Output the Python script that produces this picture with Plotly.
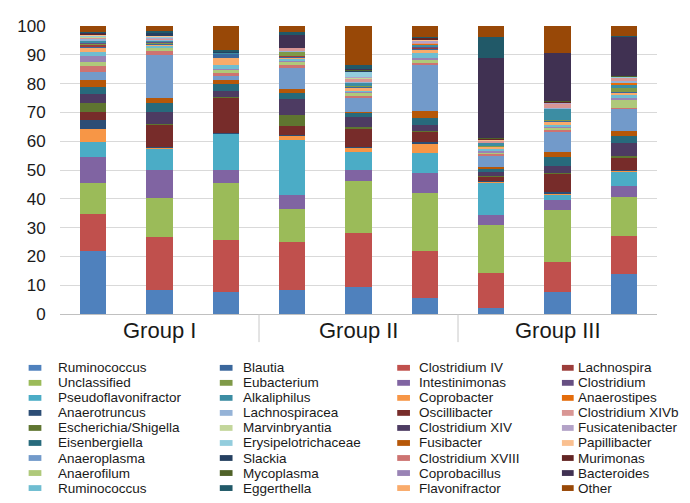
import plotly.graph_objects as go

# ---------------- data ----------------
bar_ids = ["I-1", "I-2", "I-3", "II-1", "II-2", "II-3", "III-1", "III-2", "III-3"]
groups = ["Group I", "Group II", "Group III"]
group_centers = ["I-2", "II-2", "III-2"]

# taxa in stacking order (bottom -> top)
taxa = [
    "Ruminococcus", "Clostridium IV", "Unclassified", "Intestinimonas",
    "Pseudoflavonifractor", "Coprobacter", "Anaerotruncus", "Oscillibacter",
    "Escherichia/Shigella", "Clostridium XIV", "Eisenbergiella", "Fusibacter",
    "Anaeroplasma", "Clostridium XVIII", "Anaerofilum", "Coprobacillus",
    "Ruminococcus", "Flavonifractor",
    "Blautia", "Lachnospira", "Eubacterium", "Clostridium",
    "Alkaliphilus", "Anaerostipes", "Lachnospiracea", "Clostridium XIVb",
    "Marvinbryantia", "Fusicatenibacter", "Erysipelotrichaceae", "Papillibacter",
    "Slackia", "Murimonas", "Mycoplasma", "Bacteroides", "Eggerthella", "Other",
]

colors = [
    "#4F81BD", "#C0504D", "#9BBB59", "#8064A2", "#4BACC6", "#F79646",
    "#2C4D75", "#772C2A", "#5F7530", "#4D3B62", "#276A7C", "#B65708",
    "#729ACA", "#CD7371", "#AFC97A", "#9983B5", "#6FBDD1", "#F9AB6B",
    "#3A679C", "#9C3D3A", "#7F9A48", "#664F82", "#3C8DA3", "#E46C0A",
    "#95B3D7", "#D99694", "#C3D69B", "#B3A2C7", "#93CDDD", "#FAC090",
    "#254061", "#632523", "#4F6228", "#403152", "#215968", "#984807",
]

# relative abundance (%) per bar, in taxa order
bar_I_1 = [21.9, 12.9, 10.8, 8.8, 5.4, 4.5, 3.0, 2.8, 3.2, 3.1, 2.5, 2.4, 2.6, 2.2, 1.5, 1.9, 1.6, 1.1,
           0.8, 0.5, 0.5, 0.3, 0.5, 0.2, 0.4, 0.7, 0.2, 0.2, 0.2, 0.2, 0.2, 0.2, 0.2, 0.2, 0.2, 2.1]
bar_I_2 = [8.4, 18.2, 13.8, 9.5, 7.7, 0.2, 0.2, 7.7, 0.3, 4.1, 3.2, 1.7, 15.1, 1.3, 1.0, 0.3, 0.4, 0.4,
           0.3, 0.2, 0.3, 0.2, 0.3, 0.2, 0.3, 0.3, 0.2, 0.2, 0.2, 0.2, 1.2, 0.1, 0.1, 0.1, 0.2, 1.9]
bar_I_3 = [7.5, 18.1, 19.8, 4.5, 12.7, 0.2, 0.2, 12.1, 0.3, 2.1, 2.3, 1.3, 1.5, 1.1, 1.1, 0.4, 1.3, 2.3,
           1.6, 0.1, 0.1, 0.0, 0.1, 0.0, 0.1, 0.0, 0.0, 0.1, 0.0, 0.0, 0.1, 0.0, 0.0, 0.0, 0.7, 8.3]
bar_II_1 = [8.4, 16.6, 11.6, 4.7, 19.1, 1.7, 0.2, 2.9, 3.9, 5.6, 1.9, 1.5, 7.3, 1.1, 1.0, 0.5, 0.6, 0.4,
            0.3, 0.2, 1.5, 0.1, 0.1, 0.1, 0.1, 1.0, 0.0, 0.0, 0.0, 0.0, 0.0, 0.0, 0.0, 4.4, 1.2, 2.0]
bar_II_2 = [9.5, 18.5, 18.1, 3.8, 6.3, 1.6, 0.2, 6.5, 0.5, 3.3, 1.5, 0.4, 5.0, 0.6, 1.2, 0.3, 0.3, 1.2,
            0.2, 0.1, 0.1, 0.1, 1.0, 0.2, 0.2, 1.2, 0.2, 0.2, 1.8, 0.2, 0.3, 0.1, 0.1, 0.2, 1.6, 13.4]
bar_II_3 = [5.7, 16.2, 20.2, 6.7, 7.1, 3.4, 0.3, 3.6, 0.3, 2.3, 2.3, 2.3, 16.3, 0.5, 1.3, 0.3, 1.9, 1.3,
            0.3, 0.1, 0.1, 0.1, 1.1, 0.1, 0.1, 0.2, 0.1, 0.8, 0.1, 0.1, 0.1, 0.6, 0.1, 0.1, 0.1, 3.8]
bar_III_1 = [2.2, 12.1, 16.7, 3.3, 11.2, 0.4, 0.4, 1.4, 0.3, 1.2, 1.0, 1.0, 3.8, 0.6, 0.5, 0.6, 0.6, 0.7,
             0.2, 0.1, 0.1, 0.1, 1.0, 0.1, 0.1, 0.4, 0.1, 0.1, 0.1, 0.1, 0.2, 0.1, 0.2, 27.9, 7.4, 3.7]
bar_III_2 = [7.6, 10.3, 18.3, 3.4, 2.0, 0.3, 0.3, 6.6, 0.3, 2.3, 3.0, 2.0, 7.0, 0.4, 1.0, 0.4, 0.6, 1.2,
             0.2, 0.1, 0.1, 0.1, 3.7, 0.1, 0.1, 1.7, 0.1, 0.1, 0.1, 0.1, 0.1, 0.1, 0.1, 16.9, 0.1, 9.2]
bar_III_3 = [13.8, 13.2, 13.7, 3.9, 4.9, 0.2, 0.2, 4.1, 0.8, 4.5, 2.4, 2.0, 7.5, 0.3, 3.1, 0.3, 1.2, 0.8,
             0.2, 0.1, 1.3, 0.1, 1.2, 0.5, 0.6, 1.1, 0.1, 0.1, 0.1, 0.1, 0.1, 0.1, 0.1, 13.6, 0.2, 3.5]

y_ticks = [0, 10, 20, 30, 40, 50, 60, 70, 80, 90, 100]

bars_data = [bar_I_1, bar_I_2, bar_I_3, bar_II_1, bar_II_2, bar_II_3, bar_III_1, bar_III_2, bar_III_3]

# ---------------- figure ----------------
# the page body has an 8px margin, so the figure is 8px smaller and all
# page-pixel positions below are converted with that offset
OFF = 8
W, H = 690 - OFF, 503 - OFF
ML, MR, MT, MB = 40, 33, 9, 189
PW, PH = W - ML - MR, H - MT - MB
FONT = "Liberation Sans, Arial, Helvetica, sans-serif"


def px_x(x):
    return (x - OFF - ML) / PW


def px_y(y):
    return (H - MB - (y - OFF)) / PH


fig = go.Figure()
for j, name in enumerate(taxa):
    fig.add_trace(go.Bar(
        x=bar_ids,
        y=[b[j] for b in bars_data],
        name=name,
        marker=dict(color=colors[j], line=dict(width=0)),
        showlegend=False,
    ))

shapes = []
annotations = []

# group labels and dividers
for g, c in zip(groups, group_centers):
    annotations.append(dict(
        x=c, xref="x", y=px_y(331), yref="paper", text=g, showarrow=False,
        xanchor="center", yanchor="middle",
        font=dict(size=22, color="#1a1a1a", family=FONT),
    ))
for xd in [2.5, 5.5]:
    shapes.append(dict(
        type="line", xref="x", yref="paper", x0=xd, x1=xd, y0=0, y1=px_y(343),
        line=dict(color="#c8c8c8", width=1),
    ))

# legend (4 columns x 9 rows)
sw_x0 = [16, 211, 392, 560]
sw_x1 = [29, 224, 405, 572]
txt_x = [45, 234, 413, 575]
row0, pitch = 369.5, 15.5
for j, name in enumerate(taxa):
    if j < 18:
        col = 0 if j % 2 == 0 else 2
        row = j // 2
    else:
        col = 1 if (j - 18) % 2 == 0 else 3
        row = (j - 18) // 2
    yc = row0 + row * pitch
    shapes.append(dict(
        type="rect", xref="paper", yref="paper",
        x0=px_x(sw_x0[col]), x1=px_x(sw_x1[col]),
        y0=px_y(yc + 3), y1=px_y(yc - 3),
        fillcolor=colors[j], line=dict(width=0),
    ))
    annotations.append(dict(
        x=px_x(txt_x[col]), xref="paper", y=px_y(yc), yref="paper",
        text=name, showarrow=False, xanchor="left", yanchor="middle",
        borderpad=0,
        font=dict(size=13.5, color="#1a1a1a", family=FONT),
    ))

fig.update_layout(
    width=W, height=H,
    margin=dict(l=ML, r=MR, t=MT, b=MB, pad=0),
    barmode="stack",
    bargap=0.605,
    plot_bgcolor="white",
    paper_bgcolor="white",
    font=dict(family=FONT, color="#1a1a1a"),
    shapes=shapes,
    annotations=annotations,
    xaxis=dict(
        type="category", showticklabels=False, ticks="", showgrid=False,
        showline=True, linecolor="#c0c0c0", linewidth=1, zeroline=False,
        range=[-0.5, 8.5],
    ),
    yaxis=dict(
        range=[0, 100], tickvals=y_ticks,
        ticks="outside", ticklen=10, tickcolor="rgba(0,0,0,0)",
        showgrid=True, gridcolor="#d9d9d9", gridwidth=1,
        zeroline=False, showline=False,
        tickfont=dict(size=17, color="#1a1a1a", family=FONT),
        ticklabeloverflow="allow",
    ),
)

fig.write_html("out.html")
